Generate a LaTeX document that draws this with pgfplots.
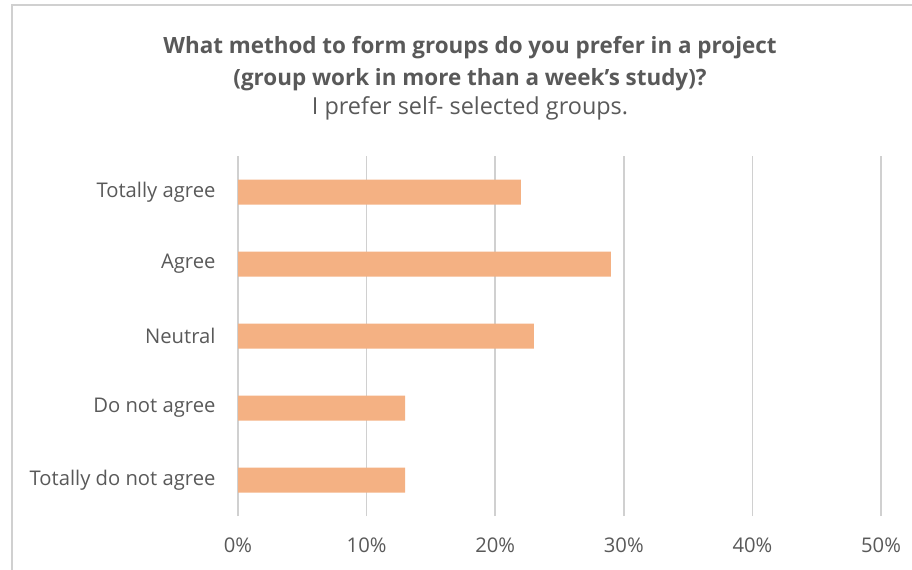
\documentclass[border=0pt]{standalone}
\usepackage{fontspec}
\setmainfont{Open Sans}
\usepackage{pgfplots}
\pgfplotsset{compat=1.18}
\definecolor{txt}{HTML}{595959}
\definecolor{barc}{HTML}{F4B183}
\definecolor{gridc}{HTML}{D0D0D0}
\begin{document}
\begin{tikzpicture}
\useasboundingbox (0,0) rectangle (912bp,570bp);
\draw[gridc, line width=2bp] (11.7bp,0) -- (11.7bp,564.5bp) -- (912bp,564.5bp);
\begin{axis}[at={(238bp,54bp)}, anchor=south west, scale only axis,
  width=643bp, height=360bp,
  xbar, bar width=25bp,
  xmin=0, xmax=50, ymin=-0.5, ymax=4.5,
  axis line style={draw=none}, major tick length=0pt,
  xtick={0,10,20,30,40,50},
  xticklabels={0\%,10\%,20\%,30\%,40\%,50\%},
  ytick={0,1,2,3,4},
  yticklabels={Totally do not agree,Do not agree,Neutral,Agree,Totally agree},
  xmajorgrids, major grid style={gridc, line width=1.5bp},
  ticklabel style={font=\fontsize{20.3}{24}\selectfont, text=txt},
  yticklabel style={xshift=-19bp},
  xticklabel style={yshift=-18bp},
]
\addplot[fill=barc, draw=none] coordinates {(13,0) (13,1) (23,2) (29,3) (22,4)};
\end{axis}
\node[anchor=base, font=\bfseries\fontsize{22.5}{27}\selectfont, text=txt] at (470bp,516bp) {What method to form groups do you prefer in a project};
\node[anchor=base, font=\bfseries\fontsize{22.5}{27}\selectfont, text=txt] at (470bp,484bp) {(group work in more than a week’s study)?};
\node[anchor=base, font=\fontsize{23.5}{28}\selectfont, text=txt] at (470bp,455bp) {I prefer self- selected groups.};
\end{tikzpicture}
\end{document}
